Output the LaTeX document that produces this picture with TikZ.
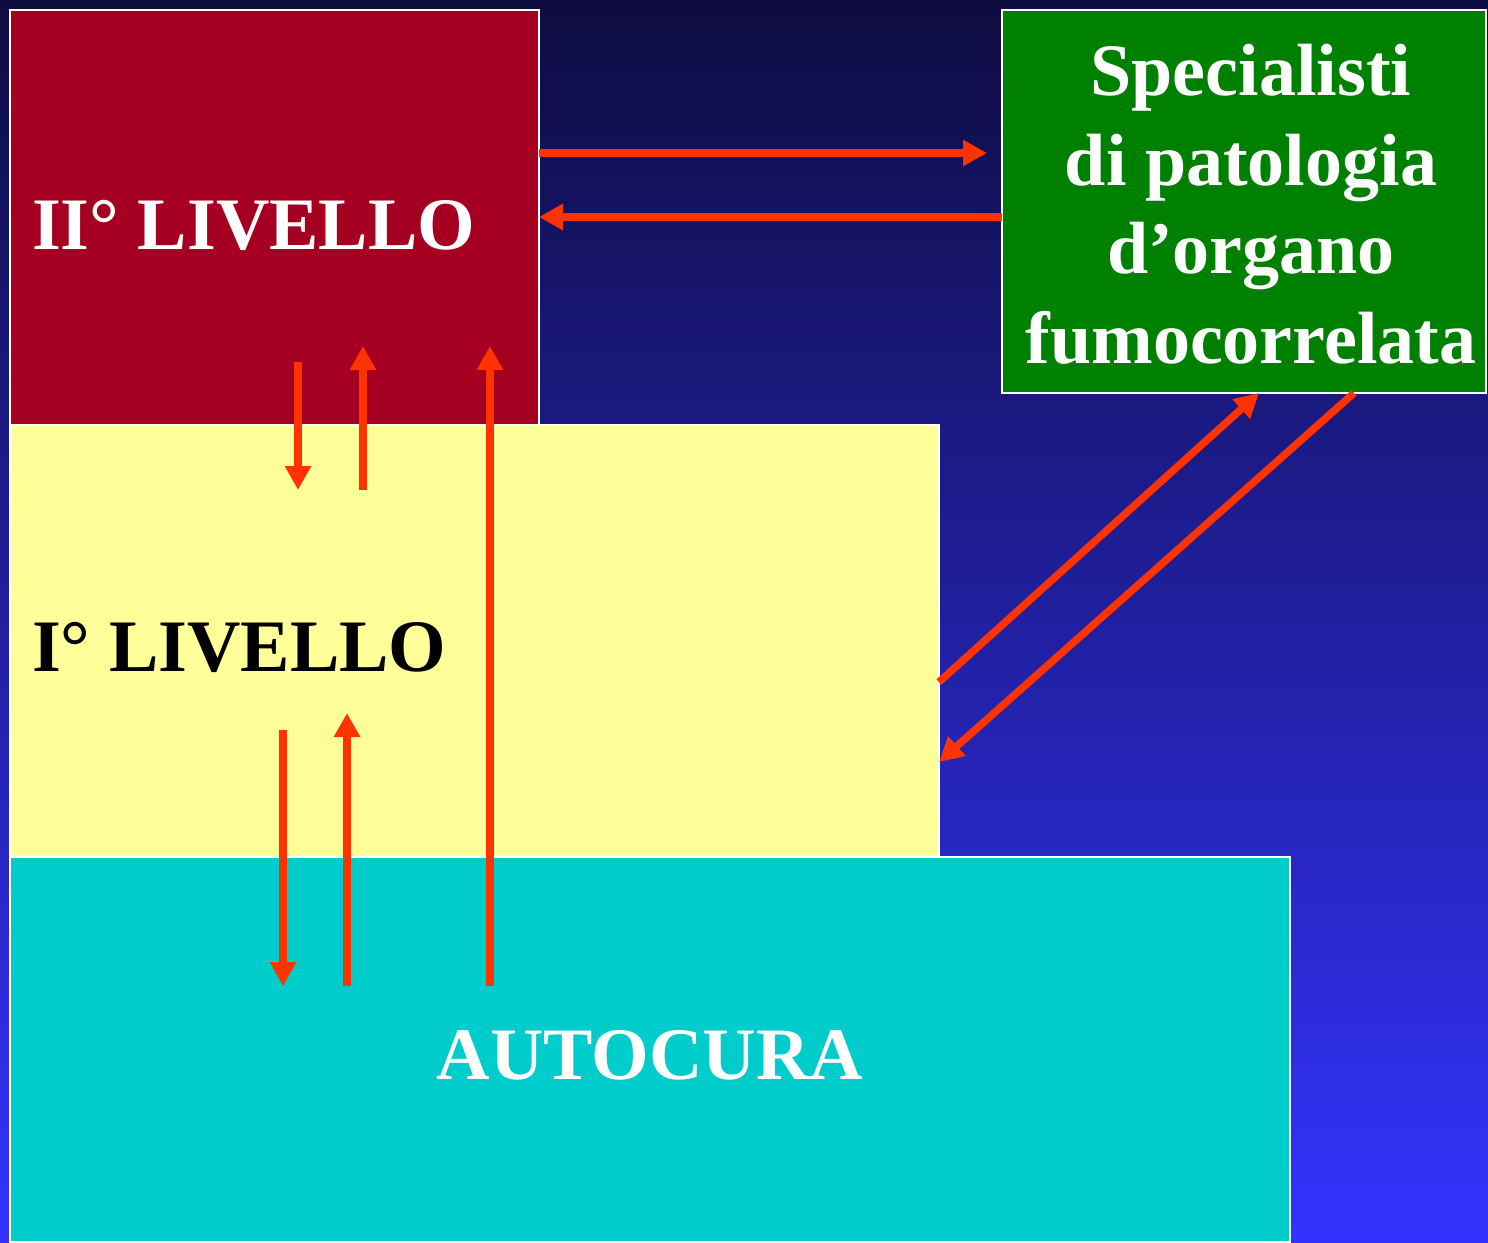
\documentclass[tikz,border=0pt]{standalone}
\usepackage{fontspec}
\setmainfont{Liberation Serif}
\usetikzlibrary{arrows.meta}
\definecolor{bgtop}{HTML}{0E0C40}
\definecolor{bgbot}{HTML}{3333FF}
\definecolor{redbox}{HTML}{A50021}
\definecolor{yelbox}{HTML}{FFFF99}
\definecolor{cyanbox}{HTML}{00CCCC}
\definecolor{greenbox}{HTML}{008000}
\definecolor{arr}{HTML}{FF3300}
\tikzset{
  box/.style={draw=white, line width=2pt, anchor=north west, inner sep=0pt, outer sep=0pt},
  lbl/.style={font=\fontsize{74}{89}\selectfont\bfseries, inner sep=0pt, anchor=base west},
  slbl/.style={font=\fontsize{74}{89}\selectfont\bfseries, text=white, inner sep=0pt, anchor=base},
  conn/.style={draw=arr, line width=7.5pt, -{Triangle[width=25pt,length=24pt]}}
}
\begin{document}
\begin{tikzpicture}[x=1pt,y=-1pt]
\useasboundingbox (0,0) rectangle (1488,1242);
\shade[top color=bgtop, bottom color=bgbot] (0,0) rectangle (1488,1242);
% boxes
\node[box, fill=redbox, minimum width=529pt, minimum height=415pt] (lv2) at (10,10) {};
\node[box, fill=yelbox, minimum width=929pt, minimum height=432pt] (lv1) at (10,425) {};
\node[box, fill=cyanbox, minimum width=1280pt, minimum height=385pt] (auto) at (10,857) {};
\node[box, fill=greenbox, minimum width=484pt, minimum height=383pt] (spec) at (1002,10) {};
% labels
\node[lbl, text=white] (t2) at (32,249) {II° LIVELLO};
\node[lbl, text=black] (t1) at (32,671) {I° LIVELLO};
\node[slbl] (ta) at (650,1079) {AUTOCURA};
\node[slbl] (ts1) at (1251,95) {Specialisti};
\node[slbl] (ts2) at (1251,185) {di patologia};
\node[slbl] (ts3) at (1251,273) {d’organo};
\node[slbl] (ts4) at (1251,363) {fumocorrelata};
% connector endpoints
\coordinate (a1s) at (539,153); \coordinate (a1e) at (987,153);
\coordinate (a2s) at (1002,217); \coordinate (a2e) at (539,217);
\coordinate (a3s) at (298,362); \coordinate (a3e) at (298,490);
\coordinate (a4s) at (363,490); \coordinate (a4e) at (363,346);
\coordinate (a5s) at (490,986); \coordinate (a5e) at (490,346);
\coordinate (a6s) at (283,730); \coordinate (a6e) at (283,986);
\coordinate (a7s) at (347,986); \coordinate (a7e) at (347,713);
\coordinate (a8s) at (939,682); \coordinate (a8e) at (1259,393);
\coordinate (a9s) at (1354,393); \coordinate (a9e) at (939,762);
\draw[conn] (a1s) -- (a1e);
\draw[conn] (a2s) -- (a2e);
\draw[conn] (a3s) -- (a3e);
\draw[conn] (a4s) -- (a4e);
\draw[conn] (a5s) -- (a5e);
\draw[conn] (a6s) -- (a6e);
\draw[conn] (a7s) -- (a7e);
\draw[conn] (a8s) -- (a8e);
\draw[conn] (a9s) -- (a9e);
\end{tikzpicture}
\end{document}
